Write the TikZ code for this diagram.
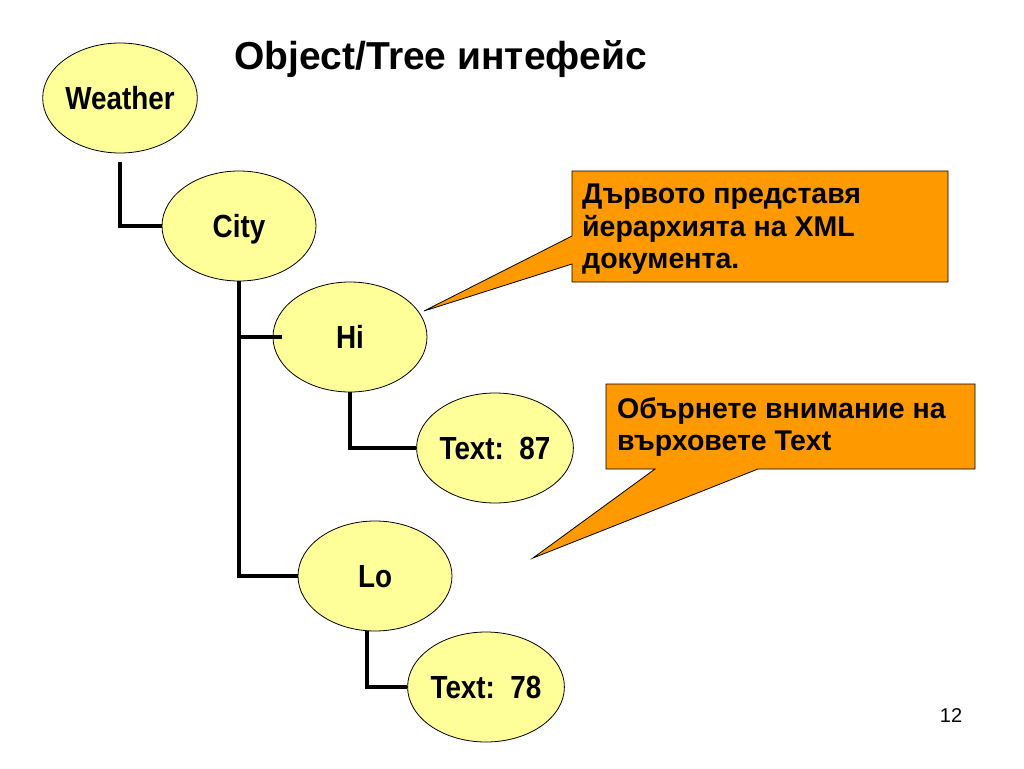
\documentclass[tikz,border=0pt]{standalone}
\usepackage{fontspec}
\setmainfont{Liberation Sans}
\newfontfamily\narrowfont[FakeStretch=0.87]{Liberation Sans}
\usetikzlibrary{shapes.geometric}
\definecolor{elemyellow}{RGB}{255,255,153}
\definecolor{noteorange}{RGB}{255,153,0}

\begin{document}
\begin{tikzpicture}[x=1pt,y=-1pt,
   elem/.style={ellipse,draw,line width=0.8pt,fill=elemyellow,minimum width=154pt,
     minimum height=110pt,inner sep=0pt,text height=23pt,text depth=0pt,
     font=\narrowfont\bfseries\fontsize{32}{36}\selectfont},
   link/.style={line width=4pt},
   note/.style={fill=noteorange,draw=black,line width=0.8pt,line join=miter},
   notetext/.style={anchor=north west,inner sep=0pt,align=left,
     font=\bfseries\fontsize{28.5}{32.5}\selectfont}]
   \useasboundingbox (0,0) rectangle (1024,768);

   \node[anchor=base west,inner sep=0pt,font=\bfseries\fontsize{39}{43}\selectfont] (title) at (234,69) {Object/Tree интефейс};

   \node[elem] (weather) at (120,98) {Weather};
   \node[elem] (city) at (239,226) {City};
   \node[elem] (hi) at (350,337) {Hi};
   \node[elem] (t87) at (495,448) {Text:~~87};
   \node[elem] (lo) at (375,576) {Lo};
   \node[elem] (t78) at (486,687) {Text:~~78};

   \draw[link] ([yshift=-9pt]weather.south) |- (city.west);
   \draw[link] (city.south) |- ([xshift=9pt]hi.west);
   \draw[link] (city.south) |- (lo.west);
   \draw[link] (hi.south) |- (t87.west);
   \draw[link] ([xshift=-8pt]lo.south) |- (t78.west);

   % callouts
   \coordinate (tip1) at (424,311);
   \coordinate (tip2) at (533,558);
   \draw[note] (572,171) -- (948,171) -- (948,282) -- (572,282) -- (572,264)
      -- (tip1) -- (572,236) -- cycle;
   \draw[note] (606,384) -- (975,384) -- (975,469) -- (758,469)
      -- (tip2) -- (655,469) -- (606,469) -- cycle;
   \node[notetext] (note1) at (582,184) {Дървото представя\\йерархията на XML\\документа.};
   \node[notetext] (note2) at (617,397) {Обърнете внимание на\\върховете Text};

   \node[font=\fontsize{20}{24}\selectfont] (page) at (951,716) {12};
\end{tikzpicture}
\end{document}
